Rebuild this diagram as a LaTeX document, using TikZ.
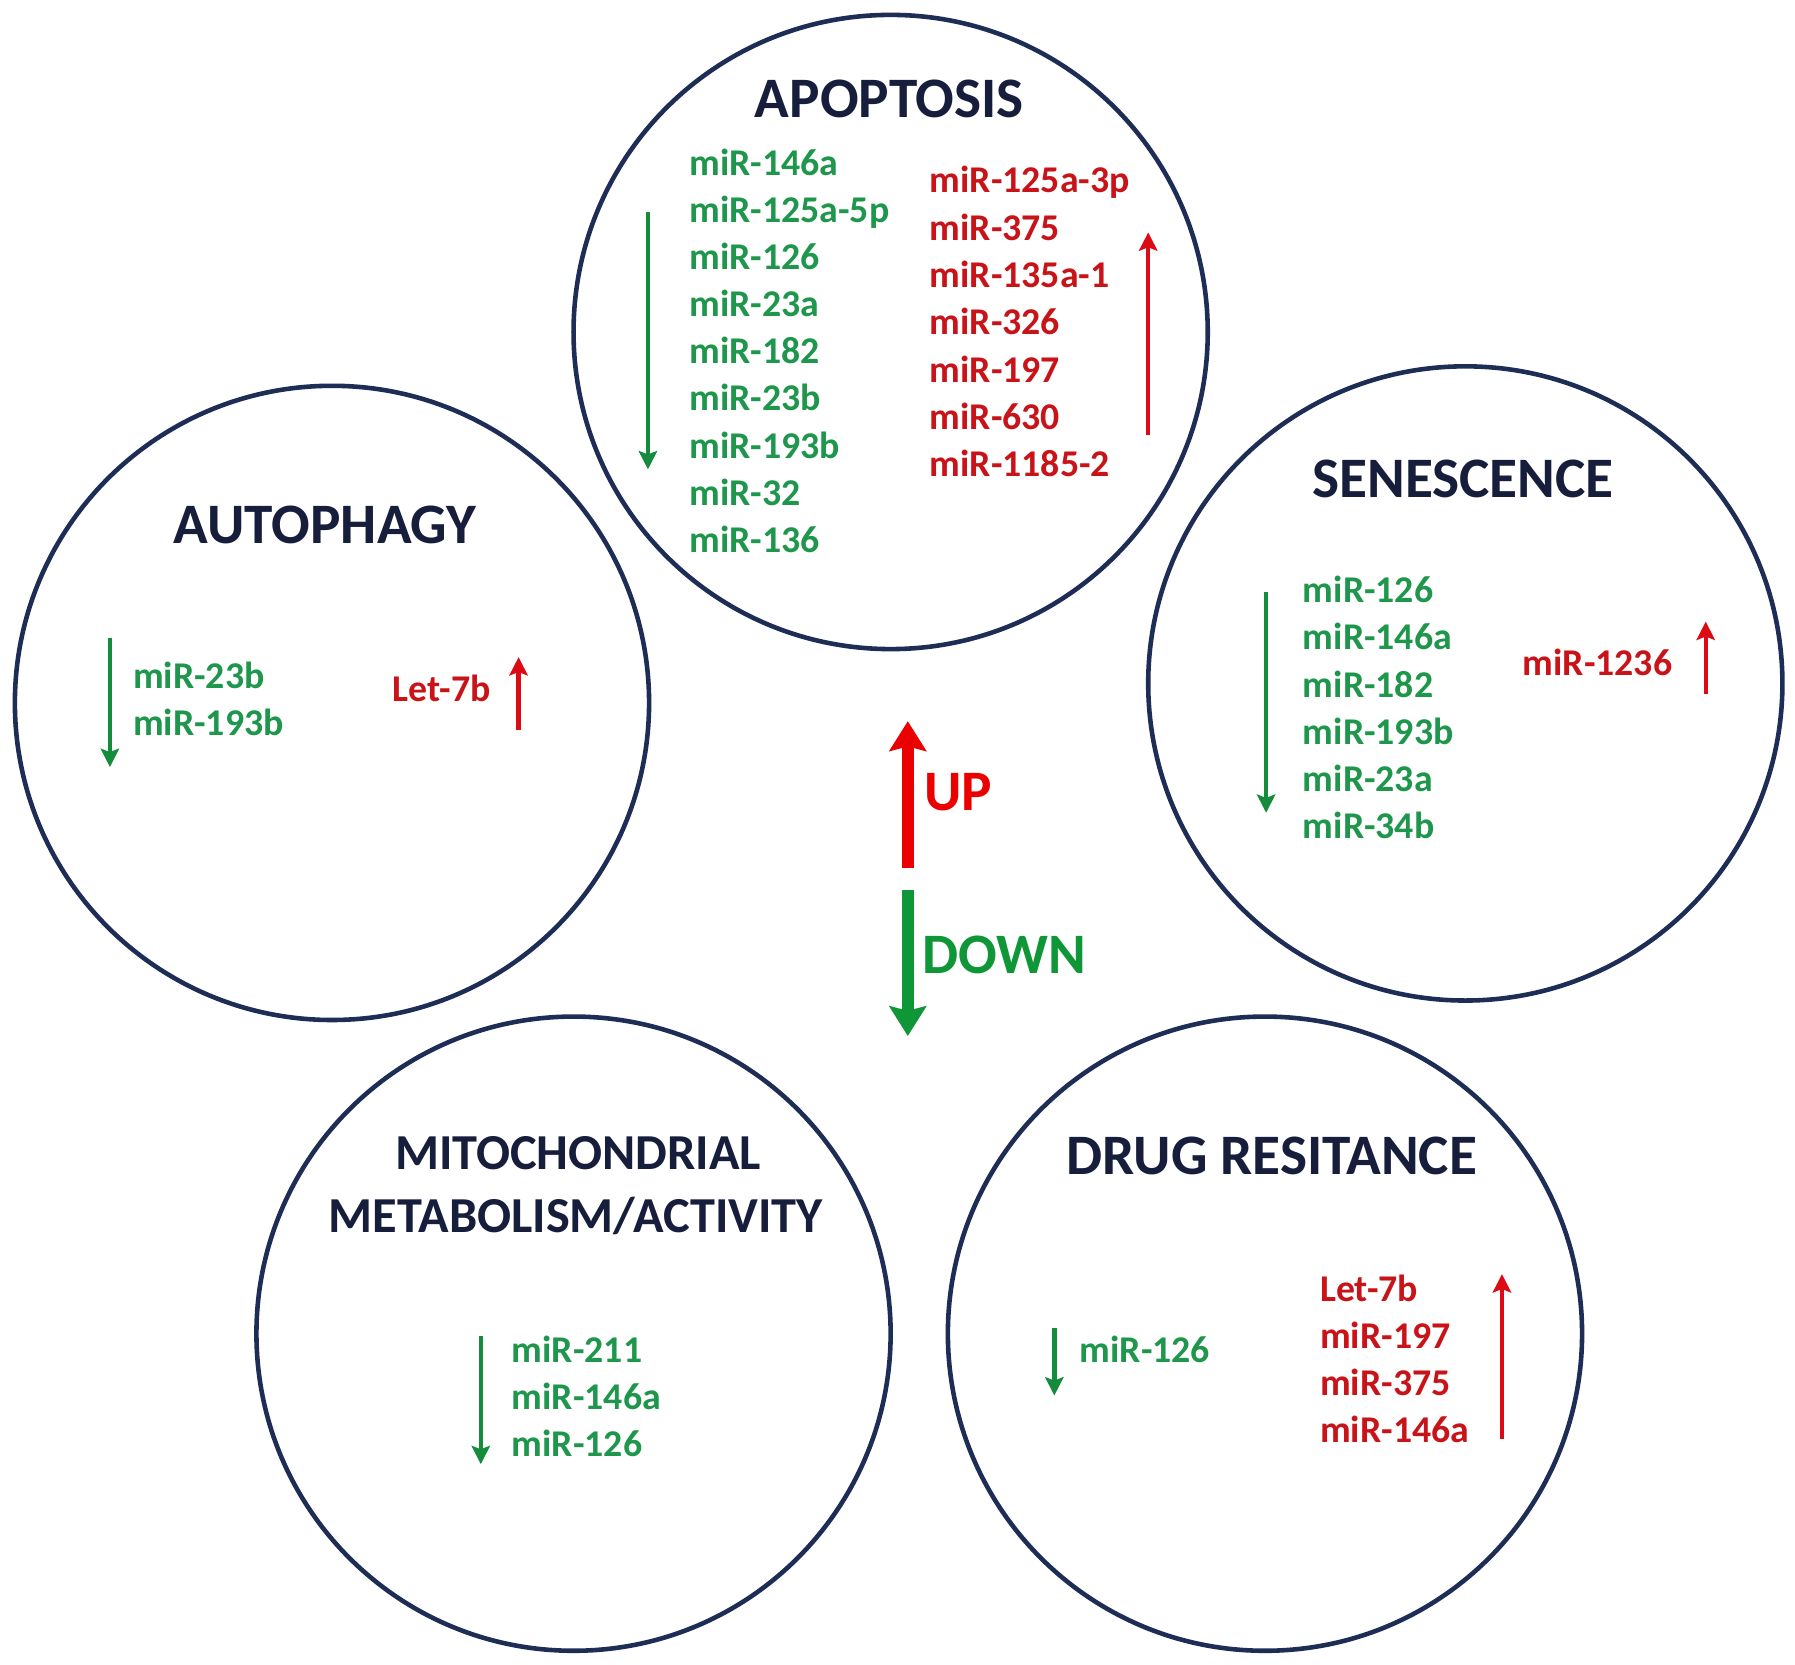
\documentclass[tikz,border=0pt]{standalone}
\usepackage{fontspec}
\setmainfont{Carlito}
\usetikzlibrary{arrows.meta}
\definecolor{navy}{RGB}{30,45,85}
\definecolor{titlec}{RGB}{22,30,60}
\definecolor{mgreen}{RGB}{30,150,75}
\definecolor{mred}{RGB}{200,20,25}
\definecolor{agreen}{RGB}{20,140,60}
\definecolor{ared}{RGB}{220,10,20}
\definecolor{bigred}{RGB}{235,0,0}
\definecolor{biggreen}{RGB}{15,150,55}
\begin{document}
\begin{tikzpicture}[x=1pt,y=-1pt,
  cell/.style={circle, draw=navy, line width=4pt, minimum size=554pt, inner sep=0pt},
  ttl/.style={font=\fontsize{50}{56}\selectfont\bfseries, text=titlec, inner sep=0pt, anchor=base},
  ttlsmall/.style={font=\fontsize{44}{50}\selectfont\bfseries, text=titlec, inner sep=0pt, anchor=base},
  mirg/.style={font=\fontsize{33}{40}\selectfont\bfseries, text=mgreen, anchor=base west, inner sep=0pt},
  mirr/.style={font=\fontsize{33}{40}\selectfont\bfseries, text=mred, anchor=base west, inner sep=0pt},
  darrow/.style={draw=agreen, line width=3.8pt, -{Stealth[length=16pt,width=16pt,inset=3pt]}},
  uarrow/.style={draw=ared, line width=3.8pt, -{Stealth[length=16pt,width=16pt,inset=3pt]}},
  bigup/.style={draw=bigred, line width=10pt, -{Stealth[length=26pt,width=32pt,inset=4pt]}},
  bigdown/.style={draw=biggreen, line width=10pt, -{Stealth[length=26pt,width=32pt,inset=4pt]}},
  bigtxt/.style={font=\fontsize{50}{56}\selectfont\bfseries, anchor=base west, inner sep=0pt}
]
\useasboundingbox (0,0) rectangle (1568,1454);
\fill[white] (0,0) rectangle (1568,1454);

% circles
\node[cell] (apo) at (778,290) {};
\node[cell] (aut) at (290,614) {};
\node[cell] (sen) at (1280,597) {};
\node[cell] (mit) at (501,1165) {};
\node[cell] (drg) at (1105,1165) {};

% APOPTOSIS
\node[ttl] (apoT) at (777,103) {APOPTOSIS};
\foreach \t [count=\i] in {miR-146a,miR-125a-5p,miR-126,miR-23a,miR-182,miR-23b,miR-193b,miR-32,miR-136}
  \node[mirg] (apoG\i) at (602,{143+41.1*(\i-1)+10.5}) {\t};
\foreach \t [count=\i] in {miR-125a-3p,miR-375,miR-135a-1,miR-326,miR-197,miR-630,miR-1185-2}
  \node[mirr] (apoR\i) at (812,{158+41.3*(\i-1)+10.5}) {\t};
\draw[darrow] (566,185) -- (566,410);
\draw[uarrow] (1003,380) -- (1003,203);

% AUTOPHAGY
\node[ttl] (autT) at (284,475) {AUTOPHAGY};
\node[mirg] (autG1) at (116,601.5) {miR-23b};
\node[mirg] (autG2) at (116,642.5) {miR-193b};
\node[mirr] (autR1) at (343,612.5) {Let-7b};
\draw[darrow] (96,557) -- (96,670);
\draw[uarrow] (453,638) -- (453,574);

% SENESCENCE
\node[ttl] (senT) at (1278,435) {SENESCENCE};
\foreach \t [count=\i] in {miR-126,miR-146a,miR-182,miR-193b,miR-23a,miR-34b}
  \node[mirg] (senG\i) at (1138,{516+41.2*(\i-1)+10.5}) {\t};
\node[mirr] (senR1) at (1330,590.5) {miR-1236};
\draw[darrow] (1106,517) -- (1106,710);
\draw[uarrow] (1490,606) -- (1490,543);

% UP / DOWN
\draw[bigup] (793,758) -- (793,630);
\node[bigtxt, text=bigred] (upT) at (807,708) {UP};
\draw[bigdown] (793,777) -- (793,905);
\node[bigtxt, text=biggreen] (downT) at (806,850) {DOWN};

% MITOCHONDRIAL
\node[ttlsmall] (mitT1) at (505,1022) {MITOCHONDRIAL};
\node[ttlsmall] (mitT2) at (503,1077) {METABOLISM/ACTIVITY};
\foreach \t [count=\i] in {miR-211,miR-146a,miR-126}
  \node[mirg] (mitG\i) at (447,{1180+41*(\i-1)+10.5}) {\t};
\draw[darrow] (420,1167) -- (420,1279);

% DRUG RESITANCE
\node[ttl] (drgT) at (1111,1026) {DRUG RESITANCE};
\node[mirg] (drgG1) at (943,1190.5) {miR-126};
\foreach \t [count=\i] in {Let-7b,miR-197,miR-375,miR-146a}
  \node[mirr] (drgR\i) at (1153,{1126+41.3*(\i-1)+10.5}) {\t};
\draw[darrow] (921,1160) -- (921,1219);
\draw[uarrow] (1312,1257) -- (1312,1113);
\end{tikzpicture}
\end{document}
